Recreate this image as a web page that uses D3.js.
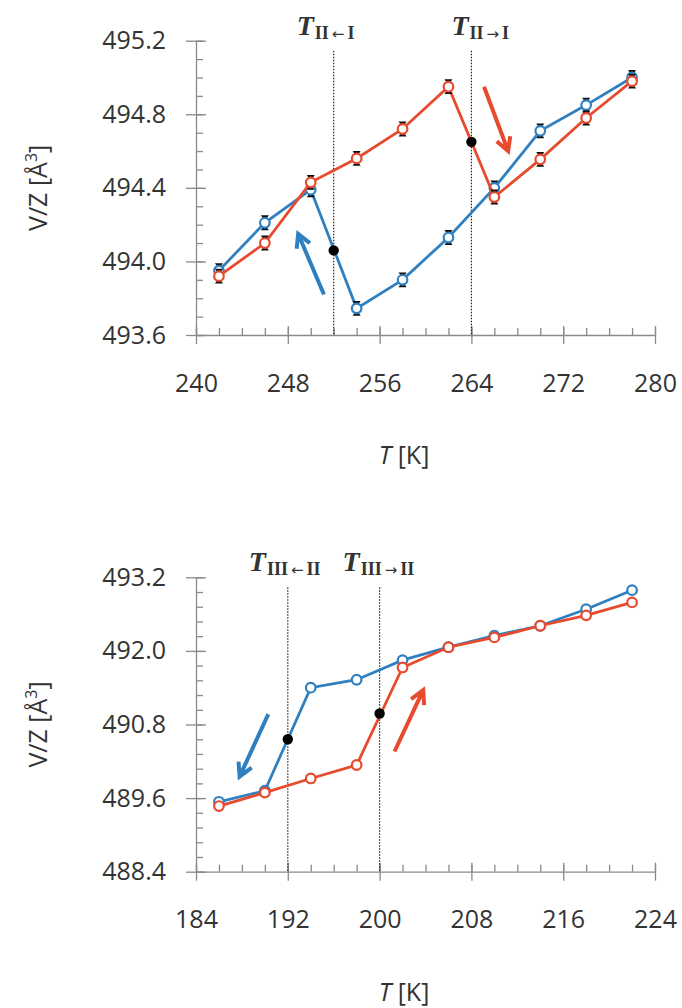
<!DOCTYPE html>
<html>
<head>
<meta charset="utf-8">
<script src="https://cdn.jsdelivr.net/npm/d3@7"></script>
<style>
  body { margin: 0; background: #fff; }
  text { font-family: "Open Sans", sans-serif; fill: #333; }
</style>
</head>
<body>
<svg width="682" height="1008"></svg>
<script>
// top panel: II <-> I
const topTemps = [242, 246, 250, 254, 258, 262, 266, 270, 274, 278];
const topCooling = [493.95, 494.21, 494.39, 493.745, 493.90, 494.13, 494.40, 494.71, 494.85, 495.00];
const topHeating = [493.92, 494.10, 494.43, 494.56, 494.72, 494.95, 494.35, 494.555, 494.78, 494.98];
const topErrors = [0.035, 0.035, 0.035, 0.035, 0.035, 0.035, 0.035, 0.035, 0.035, 0.035];
const topXTicks = [240, 248, 256, 264, 272, 280];
const topYTicks = [493.6, 494.0, 494.4, 494.8, 495.2];
const topTransT = [252, 264];
const topTransV = [494.06, 494.65];
const topTransSub = [["II", "\u2190", "I"], ["II", "\u2192", "I"]];

// bottom panel: III <-> II
const botTemps = [186, 190, 194, 198, 202, 206, 210, 214, 218, 222];
const botCooling = [489.54, 489.72, 491.40, 491.53, 491.85, 492.06, 492.25, 492.41, 492.68, 492.99];
const botHeating = [489.47, 489.69, 489.92, 490.14, 491.73, 492.06, 492.22, 492.41, 492.58, 492.79];
const botXTicks = [184, 192, 200, 208, 216, 224];
const botYTicks = [488.4, 489.6, 490.8, 492.0, 493.2];
const botTransT = [192, 200];
const botTransV = [490.56, 490.98];
const botTransSub = [["III", "\u2190", "II"], ["III", "\u2192", "II"]];

const blue = "#2f80c0";
const red = "#e84a2e";

const svg = d3.select("svg");

function drawPanel(p) {
    const x = d3.scaleLinear().domain(p.xDomain).range([196, 655]);
    const y = d3.scaleLinear().domain(p.yDomain).range([p.bottom, p.top]);
    const g = svg.append("g");

    //minor ticks, inside only
    g.append("g")
        .attr("transform", `translate(0,${p.bottom})`)
        .call(d3.axisBottom(x).tickValues(d3.range(p.xDomain[0], p.xDomain[1] + 0.01, 2)).tickSize(-7).tickFormat(""))
        .call(a => a.select(".domain").remove());
    g.append("g")
        .attr("transform", "translate(196,0)")
        .call(d3.axisLeft(y).tickValues(d3.range(0, 4.01 * p.yStep, p.yStep / p.yMinor).map(d => p.yDomain[0] + d)).tickSize(-7).tickFormat(""))
        .call(a => a.select(".domain").remove());

    //major axes, ticks crossing the line
    const xa = g.append("g")
        .attr("transform", `translate(0,${p.bottom})`)
        .call(d3.axisBottom(x).tickValues(p.xTicks).tickSize(9).tickSizeOuter(0).tickFormat(d3.format("d")));
    xa.selectAll(".tick line").attr("y1", -9);
    xa.selectAll(".tick text").attr("y", 48).attr("dy", "0.35em");
    const ya = g.append("g")
        .attr("transform", "translate(196,0)")
        .call(d3.axisLeft(y).tickValues(p.yTicks).tickSize(10).tickSizeOuter(0).tickFormat(d3.format(".1f")));
    ya.selectAll(".tick line").attr("x1", 10);
    ya.selectAll(".tick text").attr("x", -30);
    g.selectAll(".domain, .tick line").attr("stroke", "#8a8a8a").attr("stroke-width", 1.3);
    g.selectAll(".tick text").style("font-size", "25px").attr("fill", "#333");

    //axis titles
    const yt = g.append("text")
        .attr("transform", `translate(47,${(p.top + p.bottom) / 2}) rotate(-90)`)
        .attr("text-anchor", "middle")
        .style("font-size", "25px");
    yt.append("tspan").text("V/Z [Å");
    yt.append("tspan").attr("dy", -10).style("font-size", "16px").text("3");
    yt.append("tspan").attr("dy", 10).text("]");

    const xt = g.append("text")
        .attr("x", 404).attr("y", p.bottom + 129)
        .attr("text-anchor", "middle")
        .style("font-size", "25px");
    xt.append("tspan").style("font-style", "italic").text("T");
    xt.append("tspan").text(" [K]");

    //transition lines + labels
    p.transT.forEach((t, i) => {
        g.append("line")
            .attr("x1", x(t)).attr("x2", x(t))
            .attr("y1", p.top + 10).attr("y2", p.bottom)
            .attr("stroke", "#222").attr("stroke-width", 1.2)
            .attr("stroke-dasharray", "1.5,1.5");
        const lab = g.append("text")
            .attr("x", x(t) + p.labelDx[i]).attr("y", p.top - 6)
            .style("font-family", "'Liberation Serif', serif")
            .style("font-weight", "bold")
            .attr("fill", "#111");
        const sub = p.transSub[i];
        lab.append("tspan").style("font-style", "italic").style("font-size", "28px").text("T");
        lab.append("tspan").attr("dy", 4).attr("dx", 1).style("font-size", "18px").text(sub[0]);
        lab.append("tspan").attr("dx", 3).style("font-size", "15px").style("font-family", "'DejaVu Sans', sans-serif").style("font-weight", "normal").text(sub[1]);
        lab.append("tspan").attr("dx", 3).style("font-size", "18px").text(sub[2]);
    });

    //series
    const line = d3.line().x((d, i) => x(p.temps[i])).y(d => y(d));
    [[p.cooling, blue], [p.heating, red]].forEach(([vals, col]) => {
        g.append("path")
            .datum(vals)
            .attr("d", line)
            .attr("fill", "none")
            .attr("stroke", col)
            .attr("stroke-width", 2.8);
        if (p.errors) {
            vals.forEach((v, i) => {
                const cx = x(p.temps[i]);
                const y0 = y(v + p.errors[i]), y1 = y(v - p.errors[i]);
                g.append("line").attr("x1", cx).attr("x2", cx).attr("y1", y0).attr("y2", y1)
                    .attr("stroke", "#111").attr("stroke-width", 1.6);
                g.append("path").attr("d", `M${cx - 4},${y0 - 1}L${cx + 4},${y0 - 1}L${cx},${y0 + 5}Z`).attr("fill", "#111");
                g.append("path").attr("d", `M${cx - 4},${y1 + 1}L${cx + 4},${y1 + 1}L${cx},${y1 - 5}Z`).attr("fill", "#111");
            });
        }
        g.selectAll(null)
            .data(vals)
            .enter()
            .append("circle")
            .attr("cx", (d, i) => x(p.temps[i]))
            .attr("cy", d => y(d))
            .attr("r", 4.8)
            .attr("fill", "#fff")
            .attr("stroke", col)
            .attr("stroke-width", 2.2);
    });

    //transition points
    p.transT.forEach((t, i) => {
        g.append("circle")
            .attr("cx", x(t)).attr("cy", y(p.transV[i]))
            .attr("r", 5.2).attr("fill", "#000");
    });

    //direction arrows
    p.arrows.forEach(a => {
        const x1 = x(a.from[0]), y1 = y(a.from[1]);
        const x2 = x(a.to[0]), y2 = y(a.to[1]);
        const ang = Math.atan2(y2 - y1, x2 - x1);
        const h = 15, w = 0.5;
        g.append("path")
            .attr("d", `M${x1},${y1}L${x2},${y2}` +
                `M${x2 - h * Math.cos(ang - w)},${y2 - h * Math.sin(ang - w)}L${x2},${y2}` +
                `L${x2 - h * Math.cos(ang + w)},${y2 - h * Math.sin(ang + w)}`)
            .attr("fill", "none")
            .attr("stroke", a.color)
            .attr("stroke-width", 4)
            .attr("stroke-linecap", "butt");
    });
}

drawPanel({
    xDomain: [240, 280], yDomain: [493.6, 495.2], top: 40.7, bottom: 335,
    yStep: 0.4, yMinor: 4,
    xTicks: topXTicks, yTicks: topYTicks,
    temps: topTemps, cooling: topCooling, heating: topHeating, errors: topErrors,
    transT: topTransT, transV: topTransV, transSub: topTransSub, labelDx: [-37, -20],
    arrows: [
        { from: [251.15, 493.82], to: [248.9, 494.15], color: blue },
        { from: [265.1, 494.95], to: [267.2, 494.6], color: red }
    ]
});

drawPanel({
    xDomain: [184, 224], yDomain: [488.4, 493.2], top: 577.3, bottom: 871.7,
    yStep: 1.2, yMinor: 5,
    xTicks: botXTicks, yTicks: botYTicks,
    temps: botTemps, cooling: botCooling, heating: botHeating, errors: null,
    transT: botTransT, transV: botTransV, transSub: botTransSub, labelDx: [-39, -37],
    arrows: [
        { from: [190.3, 490.97], to: [187.8, 489.95], color: blue },
        { from: [201.3, 490.36], to: [203.8, 491.36], color: red }
    ]
});
</script>
</body>
</html>
